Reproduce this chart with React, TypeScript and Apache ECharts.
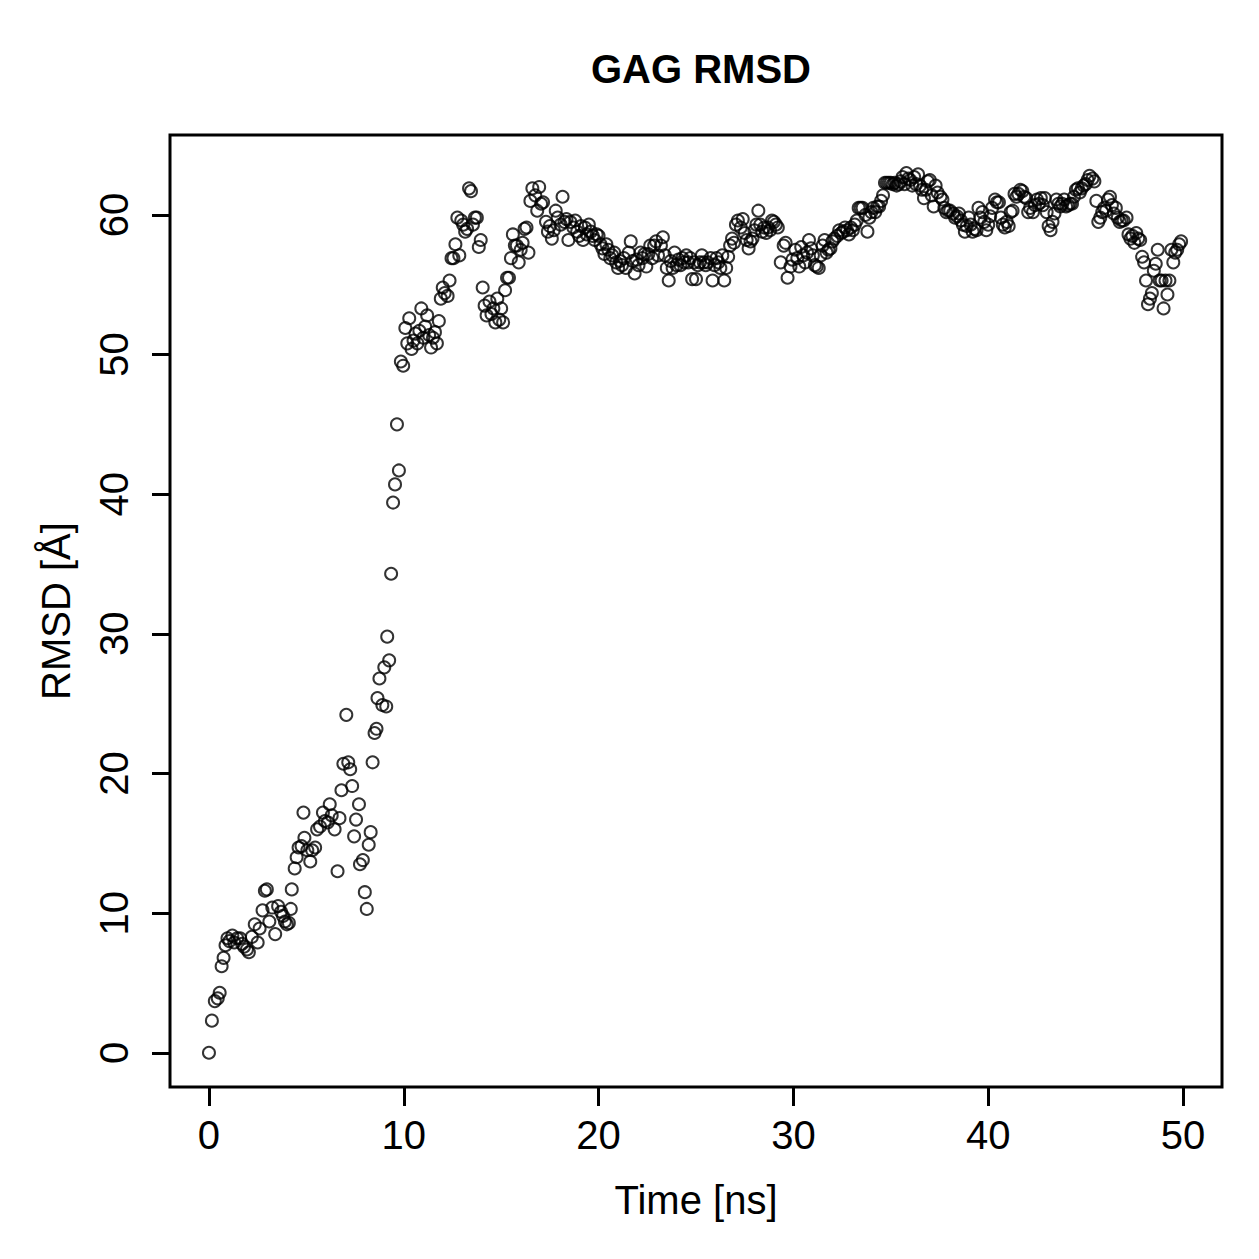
import React, { useEffect, useRef } from "react";
import * as echarts from "echarts";

const titleText = "GAG RMSD";
const xName = "Time [ns]";
const yName = "RMSD [Å]";
const xTicks = [0, 10, 20, 30, 40, 50];
const yTicks = [0, 10, 20, 30, 40, 50, 60];

const timeNs = [
  0, 0.15, 0.3, 0.45, 0.55, 0.65, 0.75, 0.85, 0.95, 1.05, 1.2, 1.3, 1.45, 1.6, 1.7, 1.8, 1.95, 2.05, 2.2, 2.35,
  2.5, 2.6, 2.75, 2.87, 2.97, 3.1, 3.25, 3.4, 3.55, 3.7, 3.8, 3.9, 4.0, 4.1, 4.2, 4.25, 4.4, 4.5, 4.6, 4.75,
  4.85, 4.9, 5.05, 5.2, 5.3, 5.45, 5.55, 5.7, 5.85, 5.95, 6.1, 6.2, 6.3, 6.45, 6.6, 6.7, 6.8, 6.9, 7.05, 7.15,
  7.25, 7.35, 7.45, 7.55, 7.7, 7.75, 7.9, 8.0, 8.1, 8.2, 8.3, 8.4, 8.5, 8.6, 8.65, 8.75, 8.9, 9.0, 9.1, 9.15,
  9.25, 9.35, 9.45, 9.55, 9.65, 9.75, 9.85, 9.97,
  10.08, 10.18, 10.28, 10.4, 10.5, 10.6, 10.7, 10.8, 10.9, 11.0, 11.1, 11.2, 11.3, 11.4, 11.5, 11.6, 11.7, 11.8, 11.9, 12.0,
  12.1, 12.25, 12.35, 12.45, 12.55, 12.65, 12.75, 12.85, 12.95, 13.05, 13.15, 13.25, 13.35, 13.45, 13.55, 13.65, 13.75, 13.85, 13.95, 14.05,
  14.15, 14.25, 14.4, 14.5, 14.6, 14.7, 14.8, 14.9, 15.0, 15.1, 15.2, 15.3, 15.4, 15.5, 15.6, 15.7, 15.8, 15.9, 16.0, 16.1,
  16.2, 16.3, 16.4, 16.5, 16.6, 16.75, 16.85, 16.95, 17.05, 17.15, 17.3, 17.4, 17.5, 17.6, 17.7, 17.8, 17.9, 18.05, 18.15, 18.25,
  18.35, 18.45, 18.55, 18.7, 18.8, 18.9, 19.0, 19.1, 19.2, 19.3, 19.4, 19.5, 19.6, 19.7, 19.8, 19.9, 20.0, 20.1, 20.2, 20.3,
  20.4, 20.5, 20.6, 20.7, 20.8, 20.9, 21.0, 21.1, 21.2, 21.3, 21.4, 21.55, 21.65, 21.75, 21.85, 21.95, 22.05, 22.15, 22.25, 22.35,
  22.45, 22.55, 22.65, 22.75, 22.85, 22.95, 23.05, 23.2, 23.3, 23.4, 23.5, 23.6, 23.7, 23.8, 23.9, 24.0, 24.1, 24.2, 24.3, 24.4,
  24.5, 24.6, 24.7, 24.8, 24.9, 25.0, 25.1, 25.2, 25.3, 25.4, 25.5, 25.6, 25.75, 25.85, 25.95, 26.05, 26.15, 26.25, 26.35, 26.45,
  26.55, 26.65, 26.75, 26.85, 26.95, 27.05, 27.15, 27.3, 27.4, 27.5, 27.6, 27.7, 27.8, 27.9, 28.0, 28.1, 28.2, 28.3, 28.4, 28.5,
  28.6, 28.7, 28.8, 28.9, 29.0, 29.1, 29.2, 29.35, 29.5, 29.6, 29.7, 29.85, 29.95, 30.1, 30.2, 30.3, 30.4, 30.5, 30.6, 30.7,
  30.8, 30.9, 31.0, 31.1, 31.2, 31.3, 31.4, 31.5, 31.6, 31.7, 31.8, 31.9, 32.0, 32.1, 32.25, 32.35, 32.45, 32.55, 32.65, 32.75,
  32.85, 32.95, 33.05, 33.15, 33.25, 33.35, 33.45, 33.55, 33.7, 33.8, 33.9, 34.0, 34.1, 34.2, 34.3, 34.4, 34.5, 34.6, 34.7, 34.8,
  34.9, 35.0, 35.1, 35.2, 35.3, 35.4, 35.5, 35.6, 35.7, 35.8, 35.9, 36.0, 36.1, 36.2, 36.3, 36.4, 36.5, 36.6, 36.7, 36.8,
  36.9, 37.0, 37.1, 37.2, 37.3, 37.4, 37.55, 37.65, 37.75, 37.85, 37.95, 38.05, 38.2, 38.3, 38.4, 38.5, 38.6, 38.7, 38.8, 38.9,
  39.0, 39.1, 39.2, 39.3, 39.4, 39.5, 39.6, 39.7, 39.8, 39.9, 40.0, 40.1, 40.2, 40.35, 40.45, 40.55, 40.65, 40.75, 40.85, 40.95,
  41.05, 41.15, 41.25, 41.35, 41.45, 41.55, 41.65, 41.75, 41.85, 41.95, 42.05, 42.15, 42.3, 42.4, 42.5, 42.6, 42.7, 42.8, 42.9, 43.0,
  43.1, 43.2, 43.3, 43.4, 43.5, 43.6, 43.7, 43.8, 43.9, 44.0, 44.1, 44.2, 44.3, 44.4, 44.5, 44.6, 44.7, 44.8, 44.9, 45.0,
  45.1, 45.2, 45.35, 45.45, 45.55, 45.65, 45.75, 45.85, 45.95, 46.05, 46.15, 46.25, 46.35, 46.45, 46.55, 46.65, 46.75, 46.85, 46.95, 47.1,
  47.2, 47.3, 47.4, 47.5, 47.6, 47.7, 47.8, 47.9, 48.0, 48.1, 48.2, 48.3, 48.4, 48.5, 48.6, 48.7, 48.8, 48.9, 49.0, 49.1,
  49.2, 49.3, 49.4, 49.5, 49.6, 49.7, 49.8, 49.9,
];

const rmsd = [
  0, 2.3, 3.7, 3.9, 4.3, 6.2, 6.8, 7.7, 8.2, 8.0, 8.4, 7.9, 8.2, 8.2, 7.8, 7.6, 7.4, 7.2, 8.3, 9.2,
  7.9, 8.9, 10.2, 11.6, 11.7, 9.4, 10.4, 8.5, 10.5, 10.1, 9.8, 9.4, 9.2, 9.3, 10.3, 11.7, 13.2, 14.0, 14.7, 14.8,
  17.2, 15.4, 14.5, 13.7, 14.5, 14.7, 16.0, 16.2, 17.2, 16.6, 16.5, 17.8, 17.0, 16.0, 13.0, 16.8, 18.8, 20.7, 24.2, 20.8,
  20.3, 19.1, 15.5, 16.7, 17.8, 13.5, 13.8, 11.5, 10.3, 14.9, 15.8, 20.8, 22.9, 23.2, 25.4, 26.8, 24.9, 27.6, 24.8, 29.8,
  28.1, 34.3, 39.4, 40.7, 45.0, 41.7, 49.5, 49.2,
  51.9, 50.8, 52.6, 50.4, 51.0, 51.5, 50.8, 51.7, 53.3, 51.2, 52.0, 52.8, 51.4, 50.5, 51.2, 51.6, 50.8, 52.4, 54.0, 54.8,
  54.4, 54.2, 55.3, 56.9, 56.9, 57.9, 59.8, 57.1, 59.6, 59.3, 58.8, 59.0, 61.9, 61.7, 59.3, 59.8, 59.8, 57.7, 58.2, 54.8,
  53.5, 52.8, 53.8, 52.9, 53.3, 52.3, 54.0, 52.5, 53.3, 52.3, 54.6, 55.5, 55.5, 56.9, 58.6, 57.8, 57.8, 56.6, 57.5, 58.0,
  59.0, 59.1, 57.3, 61.0, 61.9, 61.4, 60.3, 62.0, 60.8, 60.9, 59.5, 58.8, 59.2, 58.3, 58.9, 60.3, 59.8, 59.3, 61.3, 59.5,
  59.7, 58.2, 59.5, 59.1, 59.6, 58.8, 58.5, 59.2, 58.2, 59.1, 58.6, 59.3, 58.8, 58.5, 58.2, 58.6, 58.5, 57.9, 57.6, 57.2,
  57.9, 57.5, 56.9, 57.1, 57.3, 56.6, 56.2, 56.7, 56.4, 56.9, 56.2, 57.3, 58.1, 56.7, 55.8, 56.8, 56.4, 57.3, 56.9, 57.2,
  56.3, 57.2, 57.8, 56.9, 57.8, 58.1, 57.1, 57.8, 58.4, 57.1, 56.2, 55.3, 56.7, 56.2, 57.3, 56.4, 56.8, 56.4, 56.9, 56.6,
  57.1, 56.6, 56.9, 55.4, 56.6, 55.4, 56.4, 56.6, 57.1, 56.6, 56.4, 56.6, 56.9, 55.3, 56.4, 56.9, 56.6, 56.2, 57.1, 55.3,
  56.2, 57.0, 57.8, 58.3, 58.0, 59.3, 59.6, 59.1, 59.7, 58.7, 58.2, 57.6, 58.1, 58.3, 58.9, 59.3, 60.3, 59.3, 58.8, 59.1,
  58.7, 59.1, 58.9, 59.6, 59.5, 59.3, 59.1, 56.6, 57.8, 58.0, 55.5, 56.3, 56.8, 57.5, 56.9, 56.3, 57.7, 57.1, 56.6, 57.3,
  58.2, 57.6, 57.1, 56.4, 56.3, 56.2, 57.1, 57.8, 58.2, 57.3, 57.5, 57.6, 58.1, 58.3, 58.5, 58.9, 58.7, 58.8, 59.1, 58.9,
  58.6, 59.1, 58.9, 59.3, 59.6, 60.5, 60.5, 60.5, 60.0, 58.8, 59.8, 60.2, 60.5, 60.2, 60.6, 60.6, 61.0, 61.4, 62.3, 62.3,
  62.3, 62.3, 62.2, 62.3, 62.1, 62.2, 62.4, 62.7, 62.2, 63.0, 62.6, 62.5, 62.1, 62.7, 62.2, 62.9, 62.1, 61.8, 61.2, 61.8,
  62.4, 62.5, 61.4, 60.6, 62.1, 61.6, 61.3, 61.1, 60.5, 60.2, 60.3, 60.3, 60.1, 59.8, 59.9, 60.1, 59.6, 59.3, 58.8, 59.2,
  59.8, 59.3, 58.8, 59.0, 58.9, 60.5, 59.8, 60.2, 59.5, 58.9, 59.3, 59.9, 60.5, 61.1, 60.9, 60.9, 59.8, 59.3, 59.1, 59.5,
  59.2, 60.2, 60.3, 61.5, 61.3, 61.5, 61.8, 61.7, 61.3, 61.2, 60.2, 60.5, 60.2, 60.7, 61.1, 60.8, 61.2, 60.7, 61.2, 60.2,
  59.2, 58.9, 59.5, 60.1, 61.1, 60.8, 60.6, 60.8, 61.1, 60.6, 60.7, 60.8, 60.8, 61.3, 61.8, 61.9, 61.6, 61.9, 62.1, 62.2,
  62.5, 62.8, 62.6, 62.4, 61.0, 59.5, 59.8, 60.2, 60.5, 60.3, 61.1, 61.3, 60.7, 60.1, 60.5, 59.8, 59.5, 59.6, 59.6, 59.8,
  58.6, 58.3, 58.5, 58.0, 58.7, 58.3, 58.2, 57.0, 56.6, 55.3, 53.6, 54.0, 54.4, 56.0, 56.5, 57.5, 55.3, 55.3, 53.3, 55.3,
  54.3, 55.3, 57.5, 56.6, 57.3, 57.5, 57.9, 58.1,
];

const FONT = "'Liberation Sans', Arial, Helvetica, sans-serif";

export default function App() {
  const ref = useRef<HTMLDivElement>(null);
  useEffect(() => {
    if (!ref.current) return;
    const chart = echarts.init(ref.current, undefined, { renderer: "svg" });
    const points = timeNs.map((t, i) => [t, rmsd[i]]);
    chart.setOption({
      animation: false,
      backgroundColor: "#ffffff",
      textStyle: { fontFamily: FONT, color: "#000" },
      title: {
        text: titleText,
        left: 696,
        top: 44,
        textAlign: "center",
        textStyle: { fontFamily: FONT, fontSize: 40, fontWeight: "bold", color: "#000" },
      },
      grid: {
        left: 170,
        top: 135,
        width: 1052,
        height: 952,
        show: true,
        borderColor: "#000",
        borderWidth: 3,
        backgroundColor: "transparent",
        containLabel: false,
        outerBoundsMode: "none",
      },
      xAxis: {
        type: "value",
        position: "bottom",
        min: -2,
        max: 52,
        splitLine: { show: false },
        axisLine: { show: false, onZero: false },
        axisTick: {
          show: true,
          length: 19,
          inside: false,
          customValues: xTicks,
          lineStyle: { color: "#000", width: 3 },
        },
        axisLabel: {
          customValues: xTicks,
          fontSize: 40,
          color: "#000",
          fontFamily: FONT,
          margin: 28,
          showMinLabel: true,
          showMaxLabel: true,
        },
        name: xName,
        nameLocation: "middle",
        nameGap: 93,
        nameTextStyle: { fontSize: 40, color: "#000", fontFamily: FONT },
      },
      yAxis: {
        type: "value",
        position: "left",
        min: -2.45,
        max: 65.72,
        splitLine: { show: false },
        axisLine: { show: false, onZero: false },
        axisTick: {
          show: true,
          length: 18,
          inside: false,
          customValues: yTicks,
          lineStyle: { color: "#000", width: 3 },
        },
        axisLabel: {
          customValues: yTicks,
          rotate: 90,
          fontSize: 40,
          color: "#000",
          fontFamily: FONT,
          margin: 36,
          showMinLabel: true,
          showMaxLabel: true,
        },
        name: yName,
        nameLocation: "middle",
        nameGap: 94,
        nameRotate: 90,
        nameTextStyle: { fontSize: 40, color: "#000", fontFamily: FONT },
      },
      series: [
        {
          type: "scatter",
          data: points,
          symbol: "circle",
          symbolSize: 12,
          itemStyle: { color: "rgba(0,0,0,0)", borderColor: "#000", borderWidth: 2 },
          emphasis: { disabled: true },
        },
      ],
    });
    return () => chart.dispose();
  }, []);
  return (
    <div
      ref={ref}
      style={{ position: "fixed", left: 0, top: 0, width: 1259, height: 1259, background: "#fff" }}
    />
  );
}
